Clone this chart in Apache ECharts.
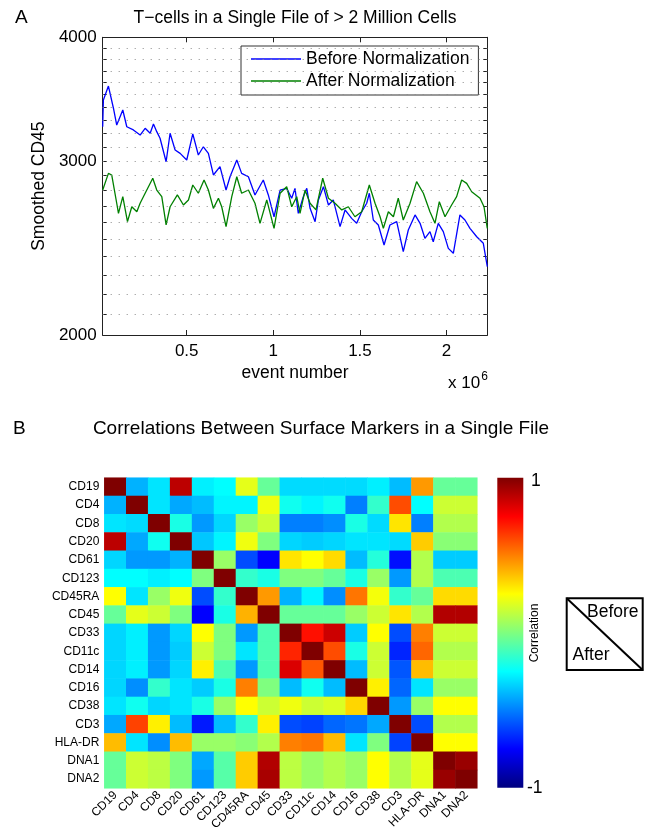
<!DOCTYPE html>
<html>
<head>
<meta charset="utf-8">
<script src="https://cdn.jsdelivr.net/npm/echarts@6/dist/echarts.min.js"></script>
<style>
html,body{margin:0;padding:0;background:#fff;}
#chart{width:654px;height:838px;}
</style>
</head>
<body>
<div id="chart"></div>
<script>
// ---------- Panel A data ----------
const eventsBefore = [0.015,0.019,0.048,0.077,0.096,0.131,0.154,0.192,0.231,0.260,0.289,0.308,0.327,0.346,0.381,0.404,0.433,0.462,0.500,0.535,0.567,0.596,0.625,0.654,0.692,0.727,0.750,0.789,0.817,0.856,0.894,0.942,0.971,1.004,1.039,1.077,1.106,1.125,1.144,1.173,1.193,1.212,1.241,1.260,1.289,1.318,1.346,1.385,1.414,1.452,1.481,1.510,1.539,1.554,1.577,1.606,1.639,1.673,1.712,1.750,1.779,1.818,1.847,1.875,1.904,1.923,1.952,1.981,2.010,2.039,2.077,2.106,2.135,2.174,2.212,2.235];
const cd45Before = [3248,3457,3571,3391,3261,3377,3248,3224,3186,3236,3199,3269,3211,3162,2994,3199,3077,3053,3006,3194,3041,3100,3053,2903,2960,2803,2891,3006,2914,2891,2771,2869,2771,2634,2803,2814,2750,2814,2655,2760,2814,2686,2604,2739,2825,2707,2739,2574,2676,2624,2594,2665,2718,2782,2614,2584,2466,2584,2604,2428,2554,2645,2594,2505,2544,2485,2594,2544,2447,2419,2645,2614,2564,2514,2476,2345];
const eventsAfter = [0.015,0.048,0.067,0.096,0.106,0.131,0.158,0.183,0.212,0.231,0.260,0.304,0.327,0.356,0.381,0.404,0.446,0.481,0.510,0.535,0.567,0.600,0.625,0.654,0.683,0.702,0.727,0.760,0.789,0.817,0.856,0.894,0.923,0.962,1.004,1.039,1.077,1.106,1.135,1.154,1.183,1.212,1.246,1.285,1.318,1.356,1.395,1.433,1.471,1.510,1.554,1.587,1.616,1.635,1.664,1.693,1.721,1.750,1.789,1.827,1.866,1.904,1.933,1.958,1.991,2.029,2.058,2.087,2.116,2.145,2.193,2.216,2.235];
const cd45After = [2803,2914,2903,2718,2655,2760,2604,2696,2665,2718,2782,2881,2803,2760,2584,2696,2771,2707,2739,2836,2782,2869,2803,2686,2750,2696,2574,2760,2891,2782,2803,2718,2594,2739,2564,2782,2825,2696,2760,2655,2803,2718,2676,2881,2750,2718,2676,2696,2634,2665,2836,2718,2634,2564,2665,2634,2750,2614,2718,2858,2782,2665,2594,2728,2634,2707,2760,2869,2847,2792,2750,2696,2564];
const xTickValues = [0.5, 1, 1.5, 2];
const yLabelValues = [2000, 3000, 4000];
const yGridValues = [2100,2200,2300,2400,2500,2600,2700,2800,2900,3000,3100,3200,3300,3400,3500,3600,3700,3800,3900];
const yTickValues = [2000,2100,2200,2300,2400,2500,2600,2700,2800,2900,3000,3100,3200,3300,3400,3500,3600,3700,3800,3900,4000];

// ---------- Panel B data ----------
const markers = ['CD19','CD4','CD8','CD20','CD61','CD123','CD45RA','CD45','CD33','CD11c','CD14','CD16','CD38','CD3','HLA-DR','DNA1','DNA2'];
const rowCD19  = [1, -0.4, -0.3, 0.88, -0.28, -0.25, 0.2, -0.05, -0.32, -0.32, -0.32, -0.32, -0.28, -0.38, 0.45, -0.05, -0.05];
const rowCD4   = [-0.4, 1, -0.3, -0.42, -0.38, -0.27, -0.27, 0.22, -0.22, -0.27, -0.22, -0.5, -0.15, 0.6, -0.25, 0.15, 0.15];
const rowCD8   = [-0.3, -0.32, 1, -0.2, -0.45, -0.33, 0.05, 0.15, -0.5, -0.5, -0.47, -0.2, -0.32, 0.3, -0.5, 0.1, 0.1];
const rowCD20  = [0.88, -0.42, -0.22, 1, -0.36, -0.27, 0.22, 0.0, -0.33, -0.35, -0.33, -0.3, -0.3, -0.32, 0.35, 0.02, 0.02];
const rowCD61  = [-0.33, -0.45, -0.45, -0.4, 1, 0.05, -0.6, -0.75, 0.3, 0.25, 0.32, -0.38, -0.18, -0.72, 0.1, -0.35, -0.35];
const rowCD123 = [-0.25, -0.25, -0.28, -0.25, 0.0, 1, -0.15, -0.2, 0.0, 0.0, -0.05, -0.2, 0.05, -0.45, 0.1, -0.1, -0.1];
const rowCD45RA= [0.25, -0.3, 0.05, 0.22, -0.6, -0.15, 1, 0.45, -0.4, -0.27, -0.47, 0.52, 0.23, -0.15, -0.05, 0.32, 0.32];
const rowCD45  = [-0.05, 0.2, 0.15, 0.0, -0.75, -0.2, 0.4, 1, -0.05, -0.05, -0.05, 0.05, 0.15, 0.3, 0.1, 0.9, 0.9];
const rowCD33  = [-0.33, -0.28, -0.45, -0.33, 0.25, 0.0, -0.45, -0.1, 1, 0.72, 0.85, -0.35, 0.25, -0.6, 0.5, 0.15, 0.15];
const rowCD11c = [-0.33, -0.28, -0.45, -0.35, 0.15, 0.0, -0.3, -0.1, 0.68, 1, 0.6, -0.2, 0.15, -0.68, 0.55, 0.1, 0.1];
const rowCD14  = [-0.33, -0.28, -0.45, -0.33, 0.28, -0.1, -0.45, -0.1, 0.82, 0.58, 1, -0.38, 0.15, -0.58, 0.38, 0.15, 0.15];
const rowCD16  = [-0.33, -0.47, -0.15, -0.3, -0.35, -0.2, 0.5, 0.0, -0.38, -0.22, -0.38, 1, 0.28, -0.55, -0.3, 0.05, 0.05];
const rowCD38  = [-0.3, -0.22, -0.33, -0.3, -0.2, 0.05, 0.25, 0.15, 0.22, 0.15, 0.18, 0.33, 1, -0.45, 0.05, 0.25, 0.25];
const rowCD3   = [-0.42, 0.62, 0.28, -0.38, -0.7, -0.38, -0.15, 0.28, -0.6, -0.62, -0.55, -0.52, -0.42, 1, -0.6, 0.1, 0.1];
const rowHLADR = [0.38, -0.3, -0.47, 0.38, 0.05, 0.05, 0.02, 0.1, 0.5, 0.52, 0.38, -0.3, 0.0, -0.62, 1, 0.25, 0.25];
const rowDNA1  = [-0.05, 0.15, 0.12, 0.0, -0.42, -0.08, 0.35, 0.9, 0.12, 0.05, 0.1, 0.05, 0.25, 0.1, 0.2, 1, 0.95];
const rowDNA2  = [-0.05, 0.15, 0.12, 0.0, -0.45, -0.08, 0.35, 0.92, 0.12, 0.05, 0.1, 0.05, 0.25, 0.1, 0.2, 0.95, 1];
const corrRows = [rowCD19,rowCD4,rowCD8,rowCD20,rowCD61,rowCD123,rowCD45RA,rowCD45,rowCD33,rowCD11c,rowCD14,rowCD16,rowCD38,rowCD3,rowHLADR,rowDNA1,rowDNA2];

const jet = ['#00007F','#0000FF','#007FFF','#00FFFF','#7FFF7F','#FFFF00','#FF7F00','#FF0000','#7F0000'];

const heatData = [];
corrRows.forEach((row, r) => row.forEach((v, c) => heatData.push([c, r, v])));

const FONT = 'Liberation Sans, Arial, Helvetica, sans-serif';
const chart = echarts.init(document.getElementById('chart'), null, {renderer: 'canvas'});

const option = {
  animation: false,
  backgroundColor: '#ffffff',
  textStyle: {fontFamily: FONT, color: '#000'},
  grid: [
    {left: 102.7, top: 37.3, width: 384.6, height: 297.7, containLabel: false},
    {left: 104.3, top: 477.7, width: 373, height: 310.6, containLabel: false}
  ],
  legend: {
    show: true,
    data: [
      {name: 'Before Normalization', icon: 'rect'},
      {name: 'After Normalization', icon: 'rect'}
    ],
    orient: 'vertical',
    left: 241, top: 46,
    padding: [3, 9, 4, 10],
    itemGap: 2,
    itemWidth: 50, itemHeight: 1.3,
    backgroundColor: '#fff',
    borderColor: '#333', borderWidth: 1,
    textStyle: {fontFamily: FONT, fontSize: 17.5, color: '#000', lineHeight: 20},
    selectedMode: false
  },
  xAxis: [
    {
      gridIndex: 0, type: 'value', position: 'bottom', min: 0.015, max: 2.235,
      axisLine: {show: true, onZero: false, lineStyle: {color: '#222', width: 1}},
      axisTick: {show: true, inside: true, length: 5, customValues: xTickValues, lineStyle: {color: '#222'}},
      axisLabel: {show: true, customValues: xTickValues, fontSize: 17, color: '#000', margin: 8, fontFamily: FONT, formatter: v => String(v)},
      splitLine: {show: false},
      name: 'event number', nameLocation: 'middle', nameGap: 29,
      nameTextStyle: {fontSize: 17.5, color: '#000', fontFamily: FONT}
    },
    {
      gridIndex: 0, type: 'value', position: 'top', min: 0.015, max: 2.235,
      axisLine: {show: true, onZero: false, lineStyle: {color: '#222', width: 1}},
      axisTick: {show: true, inside: true, length: 5, customValues: xTickValues, lineStyle: {color: '#222'}},
      axisLabel: {show: false},
      splitLine: {show: false}
    },
    {
      gridIndex: 1, type: 'category', data: markers, position: 'bottom',
      axisLine: {show: false}, axisTick: {show: false},
      axisLabel: {interval: 0, rotate: 45, fontSize: 12, color: '#000', margin: 5, fontFamily: FONT},
      splitLine: {show: false}
    }
  ],
  yAxis: [
    {
      gridIndex: 0, type: 'log', logBase: 10, min: 2000, max: 4000, position: 'left',
      axisLine: {show: true, onZero: false, lineStyle: {color: '#222', width: 1}},
      axisTick: {show: true, inside: true, length: 4, customValues: yTickValues, lineStyle: {color: '#222'}},
      axisLabel: {show: true, customValues: yLabelValues, fontSize: 17, color: '#000', margin: 6, fontFamily: FONT, formatter: v => String(Math.round(v))},
      splitLine: {show: false},
      name: 'Smoothed CD45', nameLocation: 'middle', nameGap: 54, nameRotate: 90,
      nameTextStyle: {fontSize: 17.5, color: '#000', fontFamily: FONT}
    },
    {
      gridIndex: 0, type: 'log', logBase: 10, min: 2000, max: 4000, position: 'right',
      axisLine: {show: true, onZero: false, lineStyle: {color: '#222', width: 1}},
      axisTick: {show: true, inside: true, length: 4, customValues: yTickValues, lineStyle: {color: '#222'}},
      axisLabel: {show: false},
      splitLine: {show: false}
    },
    {
      gridIndex: 1, type: 'category', data: markers, inverse: true,
      axisLine: {show: false}, axisTick: {show: false},
      axisLabel: {interval: 0, fontSize: 12, color: '#000', margin: 5, fontFamily: FONT},
      splitLine: {show: false}
    }
  ],
  visualMap: {
    show: false, type: 'continuous', min: -1, max: 1, seriesIndex: 2,
    inRange: {color: jet}
  },
  series: [
    {
      name: 'Before Normalization', type: 'line', xAxisIndex: 0, yAxisIndex: 0,
      data: eventsBefore.map((e, i) => [e, cd45Before[i]]),
      symbol: 'none', showSymbol: false,
      lineStyle: {color: '#0000FF', width: 1.3}, itemStyle: {color: '#0000FF'},
      z: 3,
      markLine: {
        silent: true, symbol: ['none', 'none'], label: {show: false},
        lineStyle: {type: [1, 7], color: '#8a8a8a', width: 1},
        emphasis: {disabled: true},
        data: yGridValues.map(v => ({yAxis: v}))
      }
    },
    {
      name: 'After Normalization', type: 'line', xAxisIndex: 0, yAxisIndex: 0,
      data: eventsAfter.map((e, i) => [e, cd45After[i]]),
      symbol: 'none', showSymbol: false,
      lineStyle: {color: '#008000', width: 1.3}, itemStyle: {color: '#008000'},
      z: 4
    },
    {
      name: 'Correlation', type: 'heatmap', xAxisIndex: 2, yAxisIndex: 2,
      data: heatData,
      itemStyle: {borderWidth: 0},
      emphasis: {disabled: true}
    }
  ],
  graphic: [
    {type: 'text', left: 15, top: 8, style: {text: 'A', font: '19px ' + FONT, fill: '#000'}},
    {type: 'text', x: 295, y: 18, style: {text: 'T\u2212cells in a Single File of > 2 Million Cells', font: '17.5px ' + FONT, fill: '#000', align: 'center', verticalAlign: 'middle'}},
    {type: 'text', x: 448, y: 383, style: {
      text: '{a|x 10}{s|6}', font: '17px ' + FONT, fill: '#000', verticalAlign: 'middle',
      rich: {a: {fontSize: 17, fontFamily: FONT, color: '#000'}, s: {fontSize: 12, fontFamily: FONT, color: '#000', verticalAlign: 'top', padding: [0, 0, 12, 1]}}
    }},
    {type: 'text', left: 13, top: 419, style: {text: 'B', font: '19px ' + FONT, fill: '#000'}},
    {type: 'text', x: 321, y: 429, style: {text: 'Correlations Between Surface Markers in a Single File', font: '19px ' + FONT, fill: '#000', align: 'center', verticalAlign: 'middle'}},
    {type: 'rect', shape: {x: 497.3, y: 477.7, width: 26, height: 310},
      style: {fill: new echarts.graphic.LinearGradient(0, 0, 0, 1, jet.slice().reverse().map((c, i, a) => ({offset: i / (a.length - 1), color: c})))}},
    {type: 'text', x: 531, y: 481, style: {text: '1', font: '17.5px ' + FONT, fill: '#000', verticalAlign: 'middle'}},
    {type: 'text', x: 527, y: 788, style: {text: '-1', font: '17.5px ' + FONT, fill: '#000', verticalAlign: 'middle'}},
    {type: 'text', x: 535, y: 633, rotation: Math.PI / 2, style: {text: 'Correlation', font: '12px ' + FONT, fill: '#000', align: 'center', verticalAlign: 'middle'}},
    {type: 'rect', shape: {x: 566.7, y: 598.3, width: 76, height: 71.7}, style: {fill: 'none', stroke: '#000', lineWidth: 2}},
    {type: 'line', shape: {x1: 566.7, y1: 598.3, x2: 642.7, y2: 670}, style: {stroke: '#000', lineWidth: 2}},
    {type: 'text', x: 587, y: 612, style: {text: 'Before', font: '17.5px ' + FONT, fill: '#000', verticalAlign: 'middle'}},
    {type: 'text', x: 572.5, y: 655, style: {text: 'After', font: '17.5px ' + FONT, fill: '#000', verticalAlign: 'middle'}}
  ]
};
chart.setOption(option);
</script>
</body>
</html>
